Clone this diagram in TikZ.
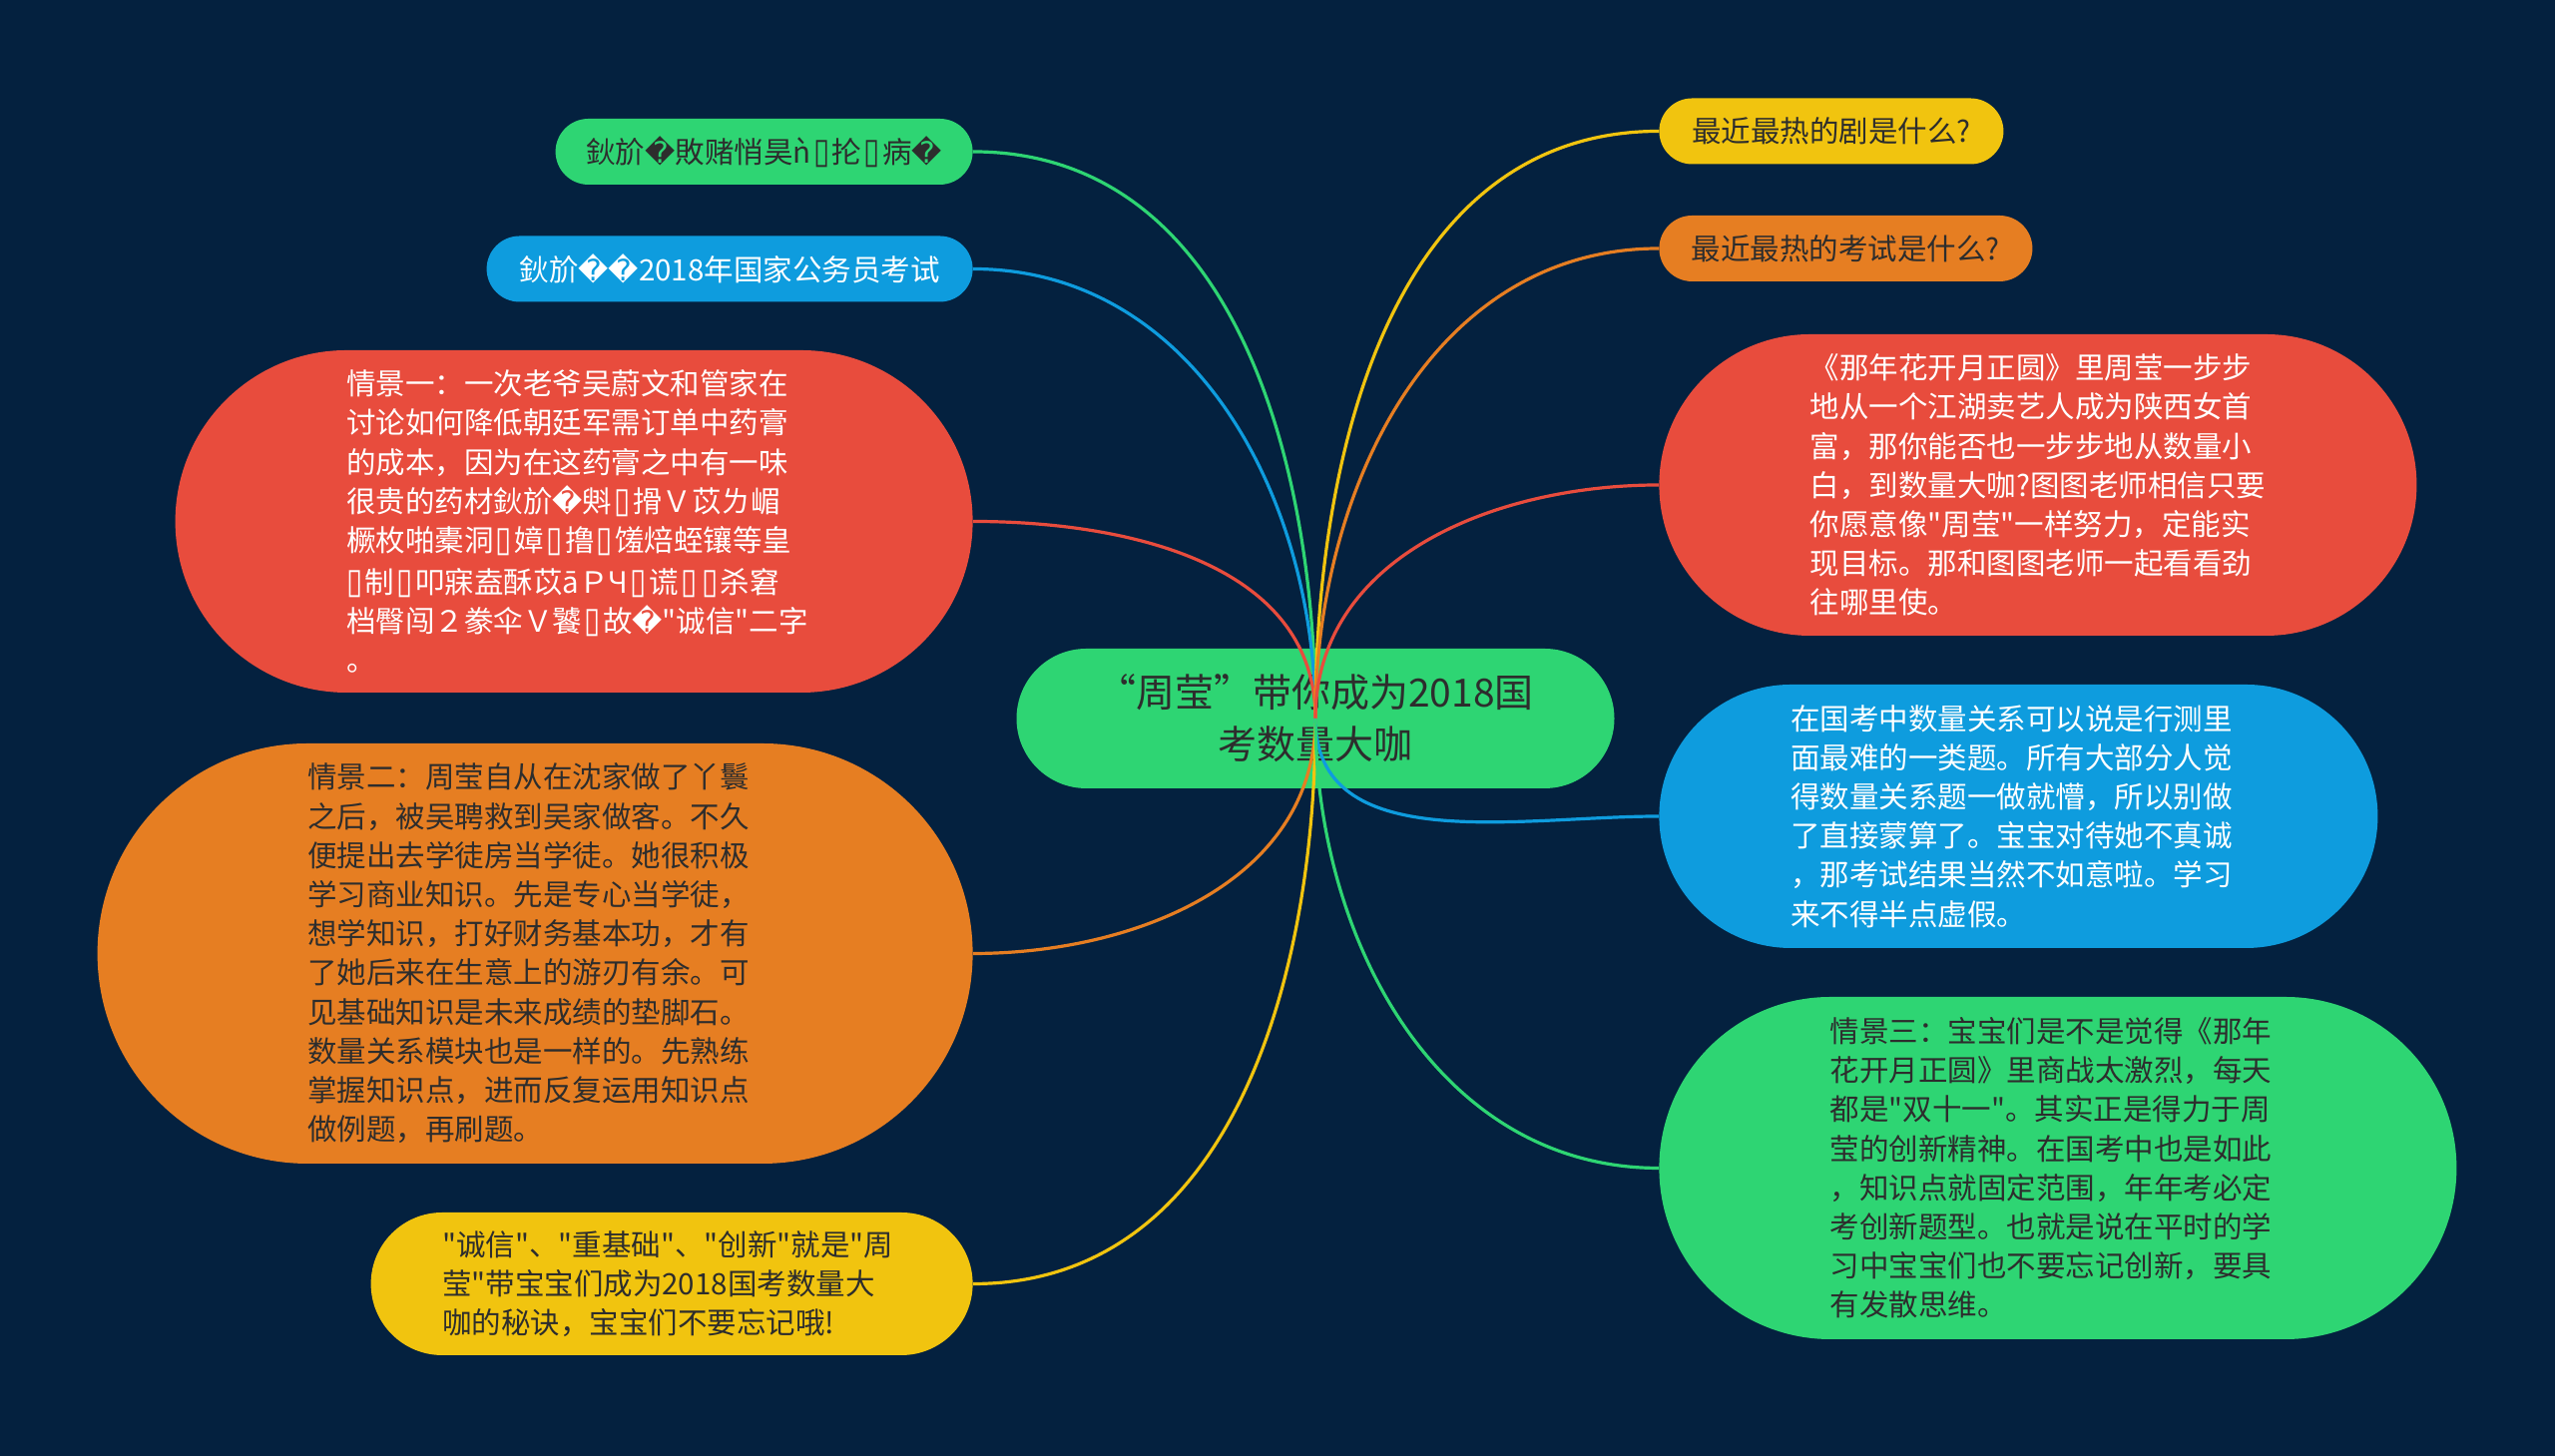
\documentclass[tikz,border=0pt]{standalone}
\usepackage{fontspec}
\setmainfont{Noto Sans CJK SC}[Ligatures=TeXOff]
\newfontfamily\dejavu{DejaVu Sans}
\usepackage{tikz}
\definecolor{bgnavy}{RGB}{4,33,63}
\definecolor{mgreen}{RGB}{46,213,115}
\definecolor{mblue}{RGB}{14,156,222}
\definecolor{mred}{RGB}{232,76,61}
\definecolor{morange}{RGB}{230,126,34}
\definecolor{myellow}{RGB}{241,196,15}
\definecolor{mdark}{RGB}{45,45,45}
\newcommand{\rpl}{{\dejavu\char"FFFD}}
\newcommand{\tofu}{{\dejavu\kern0.08em\scalebox{1}[1.2]{▯}\kern0.08em}}

\begin{document}
\begin{tikzpicture}[x=0.5pt,y=0.5pt,
  pill/.style={rectangle,inner sep=0pt,rounded corners=#1/2,minimum height=#1,font=\fontsize{14.75}{19.6}\selectfont},
  smallpill/.style={pill=33pt},
  bigpill/.style={pill=#1,text width=228pt,align=left},
  edge/.style={line width=1.6pt}]
\fill[bgnavy] (0,0) rectangle (2560,1459);

\node[pill=70pt,fill=mgreen,text=mdark,minimum width=299.5pt,align=center,font=\fontsize{19.5}{26}\selectfont] (root) at (1318,739) {“周莹”带你成为2018国\\考数量大咖};

\node[smallpill,fill=mgreen,text=mdark,anchor=east,minimum width=209pt] (lgreen) at (975,1307) {鈥斺\rpl{}敗赌悄昊ǹ\tofu{}抡\tofu{}病\rpl{}};
\node[smallpill,fill=mblue,text=white,anchor=east,minimum width=243.5pt] (lblue) at (975,1189.5) {鈥斺\rpl{}\rpl{}2018年国家公务员考试};
\node[bigpill=171.5pt,fill=mred,text=white,anchor=east,minimum width=399.5pt] (lred) at (975,936.5) {情景一：一次老爷吴蔚文和管家在\\
讨论如何降低朝廷军需订单中药膏\\
的成本，因为在这药膏之中有一味\\
很贵的药材鈥斺\rpl{}斞\tofu{}搰Ｖ苡ㄌ嵋\\
橛枚啪橐洞\tofu{}嫜\tofu{}撸\tofu{}馐焙蛭镶等皇\\
\tofu{}制\tofu{}叩寐盍酥苡āＰЧ\tofu{}谎\tofu{}\tofu{}杀窘\\
档臀闯２豢伞Ｖ饕\tofu{}故\rpl{}"诚信"二字\\
。};
\node[bigpill=210.5pt,fill=morange,text=mdark,anchor=east,minimum width=438.5pt] (lorange) at (975,503.5) {情景二：周莹自从在沈家做了丫鬟\\
之后，被吴聘救到吴家做客。不久\\
便提出去学徒房当学徒。她很积极\\
学习商业知识。先是专心当学徒，\\
想学知识，打好财务基本功，才有\\
了她后来在生意上的游刃有余。可\\
见基础知识是未来成绩的垫脚石。\\
数量关系模块也是一样的。先熟练\\
掌握知识点，进而反复运用知识点\\
做例题，再刷题。};
\node[bigpill=71.5pt,fill=myellow,text=mdark,anchor=east,minimum width=301.5pt,text width=230pt] (lyellow) at (975,172.5) {"诚信"、"重基础"、"创新"就是"周\\
莹"带宝宝们成为2018国考数量大\\
咖的秘诀，宝宝们不要忘记哦!};

\node[smallpill,fill=myellow,text=mdark,anchor=west,minimum width=172.5pt] (ryellow) at (1662,1327.5) {最近最热的剧是什么?};
\node[smallpill,fill=morange,text=mdark,anchor=west,minimum width=187pt] (rorange) at (1662,1210) {最近最热的考试是什么?};
\node[bigpill=151pt,fill=mred,text=white,anchor=west,minimum width=379.5pt] (rred) at (1662,973) {《那年花开月正圆》里周莹一步步\\
地从一个江湖卖艺人成为陕西女首\\
富，那你能否也一步步地从数量小\\
白，到数量大咖?图图老师相信只要\\
你愿意像"周莹"一样努力，定能实\\
现目标。那和图图老师一起看看劲\\
往哪里使。};
\node[bigpill=132pt,fill=mblue,text=white,anchor=west,minimum width=360pt] (rblue) at (1662,641) {在国考中数量关系可以说是行测里\\
面最难的一类题。所有大部分人觉\\
得数量关系题一做就懵，所以别做\\
了直接蒙算了。宝宝对待她不真诚\\
，那考试结果当然不如意啦。学习\\
来不得半点虚假。};
\node[bigpill=171.5pt,fill=mgreen,text=mdark,anchor=west,minimum width=399.5pt] (rgreen) at (1662,288.5) {情景三：宝宝们是不是觉得《那年\\
花开月正圆》里商战太激烈，每天\\
都是"双十一"。其实正是得力于周\\
莹的创新精神。在国考中也是如此\\
，知识点就固定范围，年年考必定\\
考创新题型。也就是说在平时的学\\
习中宝宝们也不要忘记创新，要具\\
有发散思维。};

\draw[edge,mgreen] (root.center) to[out=90,in=0] (lgreen.east);
\draw[edge,mblue] (root.center) to[out=90,in=0] (lblue.east);
\draw[edge,mred] (root.center) to[out=90,in=0] (lred.east);
\draw[edge,morange] (root.center) to[out=-90,in=0] (lorange.east);
\draw[edge,myellow] (root.center) to[out=-90,in=0] (lyellow.east);
\draw[edge,myellow] (root.center) to[out=90,in=180] (ryellow.west);
\draw[edge,morange] (root.center) to[out=90,in=180] (rorange.west);
\draw[edge,mred] (root.center) to[out=90,in=180] (rred.west);
\draw[edge,mblue] (root.center) to[out=-90,in=180] (rblue.west);
\draw[edge,mgreen] (root.center) to[out=-90,in=180] (rgreen.west);
\end{tikzpicture}
\end{document}
